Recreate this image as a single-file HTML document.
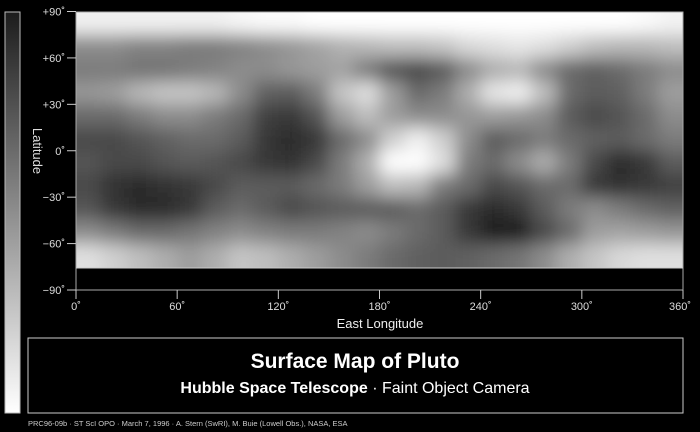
<!DOCTYPE html>
<html><head><meta charset="utf-8"><style>
html,body{margin:0;padding:0;background:#000;}
svg{display:block;font-family:"Liberation Sans",sans-serif;}
</style></head><body>
<svg id="chart" width="700" height="432" viewBox="0 0 700 432">
<defs>
<linearGradient id="cbar" x1="0" y1="0" x2="0" y2="1"><stop offset="0" stop-color="#1c1c1c"/><stop offset="1" stop-color="#ffffff"/></linearGradient>
<filter id="blur" filterUnits="userSpaceOnUse" x="0" y="-40" width="760" height="360"><feGaussianBlur stdDeviation="8.5"/></filter>
<clipPath id="mapclip"><rect x="76" y="12" width="607" height="256"/></clipPath>
</defs>
<rect x="0" y="0" width="700" height="432" fill="#000"/>
<rect x="5" y="12" width="15" height="401" fill="url(#cbar)" stroke="#bbb" stroke-width="1"/>
<g clip-path="url(#mapclip)"><g id="cells" filter="url(#blur)"></g></g>
<rect x="76" y="268" width="607" height="22" fill="#000"/>
<rect x="76" y="12" width="607" height="278" fill="none" stroke="#aaa" stroke-width="1"/>
<line x1="76" y1="268" x2="683" y2="268" stroke="#ccc"/>
<g id="yaxis"></g>
<g id="xaxis"></g>
<text x="33" y="151" fill="#ddd" font-size="13" text-anchor="middle" transform="rotate(90 33 151)">Latitude</text>
<text x="380" y="328" fill="#eee" font-size="13" text-anchor="middle">East Longitude</text>
<rect x="28" y="338" width="655" height="75" fill="#000" stroke="#ccc" stroke-width="1"/>
<text x="355" y="368" fill="#fff" font-size="21" font-weight="bold" text-anchor="middle">Surface Map of Pluto</text>
<text x="355" y="393" fill="#fff" font-size="16" text-anchor="middle"><tspan font-weight="bold">Hubble Space Telescope</tspan> · Faint Object Camera</text>
<text x="28" y="426" fill="#ccc" font-size="7.5">PRC96-09b · ST ScI OPO · March 7, 1996 · A. Stern (SwRI), M. Buie (Lowell Obs.), NASA, ESA</text>
</svg>
<script>
const lonCenters=[7.5,22.5,37.5,52.5,67.5,82.5,97.5,112.5,127.5,142.5,157.5,172.5,187.5,202.5,217.5,232.5,247.5,262.5,277.5,292.5,307.5,322.5,337.5,352.5];
const latCenters=[82.5,67.5,52.5,37.5,22.5,7.5,-7.5,-22.5,-37.5,-52.5,-67.5];
const brightness=[
[.85,.85,.85,.85,.85,.85,.87,.88,.88,.9,.9,.92,.93,.95,.96,.97,.97,.97,.96,.95,.93,.9,.88,.86],
[.55,.55,.52,.52,.5,.5,.52,.55,.58,.62,.66,.68,.7,.7,.72,.78,.8,.82,.8,.75,.7,.68,.68,.7],
[.5,.5,.48,.48,.5,.52,.55,.55,.58,.6,.62,.5,.38,.35,.4,.55,.65,.68,.55,.45,.42,.45,.5,.55],
[.58,.6,.68,.72,.72,.68,.55,.42,.4,.5,.72,.8,.6,.45,.5,.65,.82,.85,.7,.45,.4,.42,.5,.6],
[.45,.45,.5,.55,.55,.5,.45,.32,.3,.38,.6,.7,.6,.55,.55,.58,.6,.58,.55,.4,.35,.38,.45,.55],
[.35,.35,.38,.42,.45,.45,.4,.3,.25,.3,.45,.55,.75,.85,.75,.55,.4,.45,.5,.45,.42,.4,.45,.5],
[.38,.35,.35,.38,.4,.38,.35,.3,.28,.35,.5,.65,.9,.95,.8,.5,.45,.55,.65,.5,.35,.25,.3,.4],
[.35,.28,.25,.28,.3,.35,.4,.4,.4,.45,.5,.6,.7,.68,.5,.45,.35,.38,.45,.45,.3,.28,.3,.32],
[.38,.3,.25,.25,.3,.4,.45,.4,.35,.38,.4,.4,.4,.45,.4,.3,.25,.3,.4,.5,.55,.5,.45,.42],
[.55,.5,.45,.45,.48,.52,.55,.52,.5,.5,.52,.55,.5,.45,.4,.3,.22,.22,.35,.45,.6,.62,.6,.58],
[.8,.75,.7,.65,.6,.65,.72,.7,.65,.6,.55,.5,.45,.42,.4,.42,.45,.48,.55,.65,.72,.78,.8,.8]
];
const xTicks=[0,60,120,180,240,300,360];
const yTicks=[90,60,30,0,-30,-60,-90];
const yTickLabels=["+90˚","+60˚","+30˚","0˚","−30˚","−60˚","−90˚"];

const NS='http://www.w3.org/2000/svg';
const X0=76,X1=683,Y0=11.5,Y1=290;
const xs=lon=>X0+lon/360*(X1-X0);
const ys=lat=>Y0+(90-lat)/180*(Y1-Y0);
const lonStep=15,latStep=15,PAD=30;
const shade=v=>Math.max(0,Math.min(255,Math.round(((v-0.55)*1.3+0.55)*255)));
function mk(tag,attrs,parent){const e=document.createElementNS(NS,tag);for(const k in attrs)e.setAttribute(k,attrs[k]);parent.appendChild(e);return e;}

const cells=document.getElementById('cells');
const nR=brightness.length;
brightness.forEach((row,r)=>{const nC=row.length;row.forEach((v,c)=>{
  let x=xs(lonCenters[c]-lonStep/2),x2=xs(lonCenters[c]+lonStep/2);
  let y=ys(latCenters[r]+latStep/2),y2=ys(latCenters[r]-latStep/2);
  if(c===0)x-=PAD; if(c===nC-1)x2+=PAD;
  if(r===0)y-=PAD; if(r===nR-1)y2+=PAD;
  const g=shade(v);
  const e=mk('rect',{x:x,y:y,width:x2-x+0.5,height:y2-y+0.5,fill:`rgb(${g},${g},${g})`},cells);
  
  
});});

const ya=document.getElementById('yaxis');
yTicks.forEach((t,i)=>{
  const y=ys(t);
  const l=mk('line',{x1:67,x2:76,y1:y,y2:y,stroke:'#ccc','stroke-width':1},ya);
  
  
  const tx=mk('text',{x:65,y:y+4,fill:'#ddd','font-size':11,'text-anchor':'end'},ya);
  tx.textContent=yTickLabels[i];
  
  
});
const xa=document.getElementById('xaxis');
xTicks.forEach(t=>{
  const x=xs(t);
  const l=mk('line',{x1:x,x2:x,y1:290,y2:299,stroke:'#ccc','stroke-width':1},xa);
  
  
  const tx=mk('text',{x:x+(t===360?-3:0),y:310,fill:'#ddd','font-size':11,'text-anchor':'middle'},xa);
  tx.textContent=t+'˚';
  
  
});
</script>
</body></html>
